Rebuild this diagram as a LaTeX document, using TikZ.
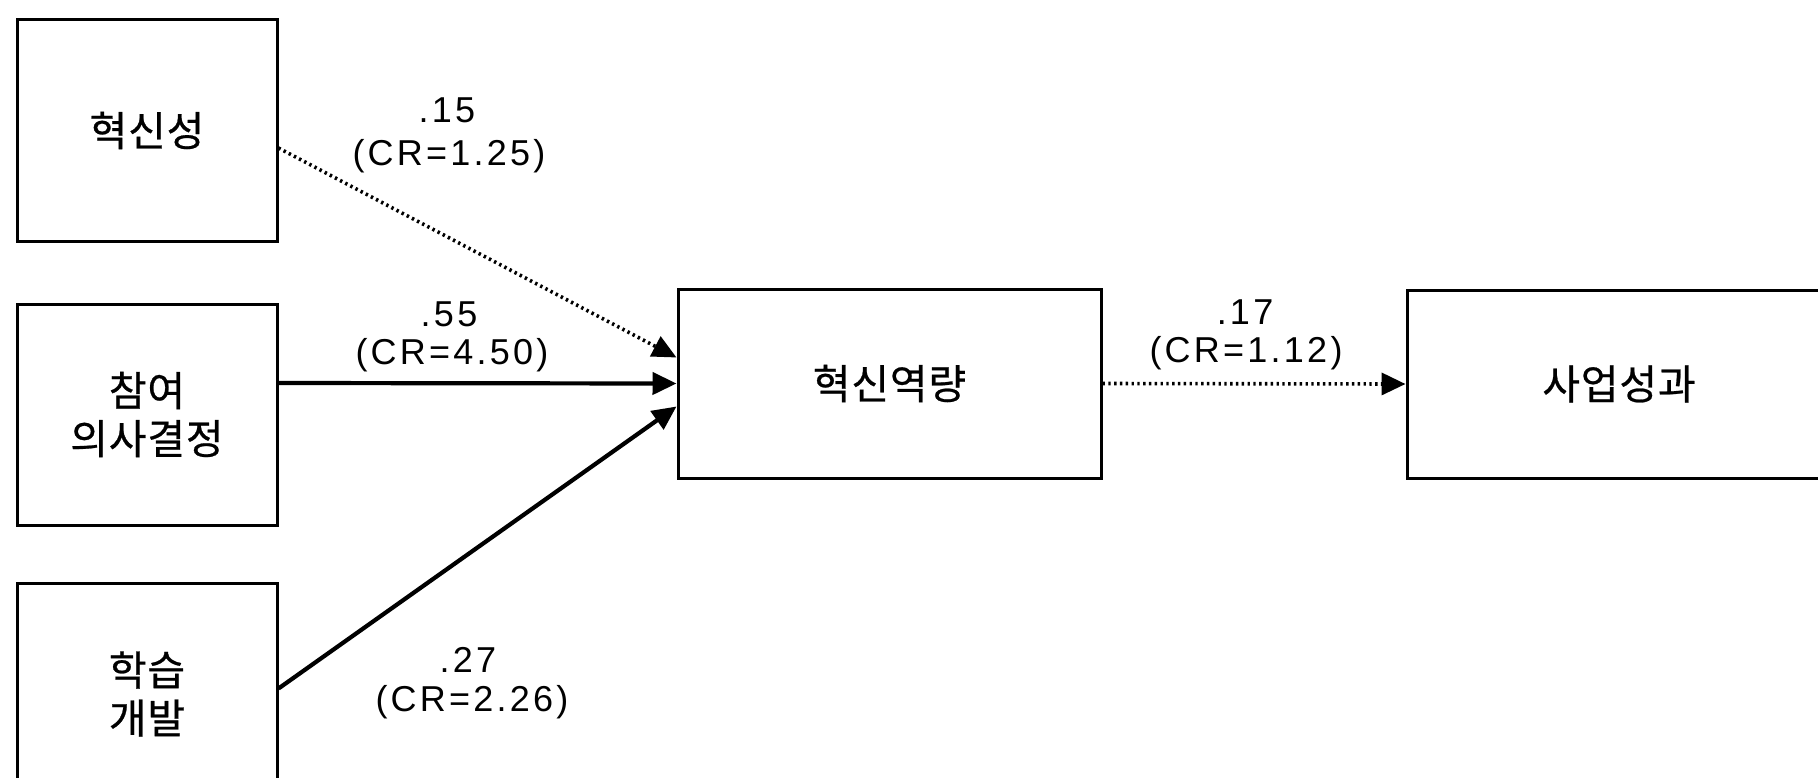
\documentclass[tikz,border=0pt]{standalone}
\usepackage{fontspec}
\setmainfont{Liberation Sans}
\newfontfamily\kr[LetterSpace=2,FakeBold=0.6]{Noto Sans CJK KR}
\newfontfamily\labfont[LetterSpace=9]{Liberation Sans}
\usetikzlibrary{arrows.meta}
\begin{document}
\begin{tikzpicture}[x=0.5pt,y=-0.5pt,
  box/.style={draw, line width=1.5pt, minimum width=130pt, minimum height=111pt, inner sep=0pt,
    font=\kr\fontsize{20.5}{24}\selectfont, align=center},
  lab/.style={font=\labfont\fontsize{18}{22}\selectfont, align=center, inner sep=0pt},
  solidarrow/.style={line width=2.1pt, -{Triangle[length=12pt,width=11pt]}},
  dotarrow/.style={line width=1.8pt, dash pattern=on 1.2pt off 1.7pt, -{Triangle[length=12pt,width=11pt]}}]
\useasboundingbox (0,0) rectangle (1818,777);
\clip (0,0) rectangle (1818,777);
\fill[white] (0,0) rectangle (1818,777);
\node[box] (b1) at (147,130.5) {혁신성};
\node[box, minimum height=110.5pt] (b2) at (147,414.5) {참여\\의사결정};
\node[box] (b3) at (147,694) {학습\\개발};
\node[box, minimum width=211.5pt, minimum height=94.5pt] (c) at (889.5,383.5) {혁신역량};
\node[box, minimum width=212pt, minimum height=94pt] (r) at (1619,384) {사업성과};
\draw[dotarrow] ([yshift=-8.75pt]b1.east) -- ([yshift=13pt]c.west);
\draw[solidarrow] ([yshift=15.75pt]b2.east) -- ([yshift=0pt]c.west);
\draw[solidarrow] ([yshift=2.75pt]b3.east) -- ([yshift=-11.5pt]c.west);
\draw[dotarrow] (c.east) -- (r.west);
\node[lab] (l1) at (447,110) {.15};
\node[lab] (l1b) at (449,156) {(CR=1.25)};
\node[lab] (l2) at (449,314) {.55};
\node[lab] (l2b) at (452,355) {(CR=4.50)};
\node[lab] (l3) at (468,660) {.27};
\node[lab] (l3b) at (472,702) {(CR=2.26)};
\node[lab] (l4) at (1245,312) {.17};
\node[lab] (l4b) at (1246,353) {(CR=1.12)};
\end{tikzpicture}
\end{document}
